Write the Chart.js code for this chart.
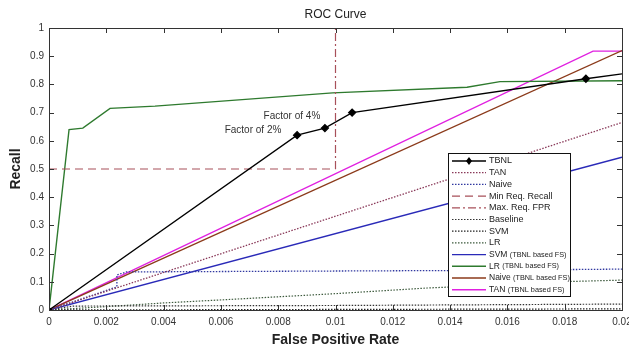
<!DOCTYPE html>
<html>
<head>
<meta charset="utf-8">
<script src="https://cdn.jsdelivr.net/npm/chart.js@4.4.1/dist/chart.umd.min.js"></script>
<style>
  html, body { margin: 0; padding: 0; background: #fff; }
  #wrap { width: 629px; height: 352px; }
</style>
</head>
<body>
<div id="wrap"><canvas id="roc" width="629" height="352"></canvas></div>
<script>
// values (false positive rate / recall)
const tbnlFpr = [0, 0.00866, 0.00963, 0.01058, 0.01874, 0.02];
const tbnlRecall = [0, 0.62, 0.645, 0.70, 0.82, 0.837];
const tanFpr = [0, 0.02];
const tanRecall = [0, 0.665];
const naiveFpr = [0, 0.00237, 0.00237, 0.0027, 0.014, 0.02];
const naiveRecall = [0, 0.082, 0.124, 0.135, 0.14, 0.145];
const minRecallFpr = [0, 0.01];
const minRecallVal = [0.5, 0.5];
const maxFprFpr = [0.01, 0.01];
const maxFprVal = [0.5, 1];
const baselineFpr = [0, 0.00085, 0.01, 0.02];
const baselineRecall = [0, 0.014, 0.016, 0.021];
const svmFpr = [0, 0.02];
const svmRecall = [0, 0.004];
const lrFpr = [0, 0.002, 0.004, 0.0066, 0.01, 0.0132, 0.016, 0.0178, 0.02];
const lrRecall = [0, 0.012, 0.025, 0.039, 0.058, 0.078, 0.09, 0.1, 0.106];
const svmFsFpr = [0, 0.02];
const svmFsRecall = [0, 0.542];
const lrFsFpr = [0, 0.0007, 0.00118, 0.00213, 0.0037, 0.0099, 0.01459, 0.01574, 0.02];
const lrFsRecall = [0, 0.64, 0.645, 0.715, 0.723, 0.77, 0.79, 0.81, 0.813];
const naiveFsFpr = [0, 0.02];
const naiveFsRecall = [0, 0.92];
const tanFsFpr = [0, 0.01899, 0.02];
const tanFsRecall = [0, 0.918, 0.918];
const xTicks = [0, 0.002, 0.004, 0.006, 0.008, 0.01, 0.012, 0.014, 0.016, 0.018, 0.02];
const yTicks = [0, 0.1, 0.2, 0.3, 0.4, 0.5, 0.6, 0.7, 0.8, 0.9, 1];

function pts(xs, ys) {
  return xs.map((x, i) => ({ x: x, y: ys[i] }));
}

const dot = [1.5, 1.5];

// legend inside the plot, drawn by hand (the built-in one can't sit in the chart area)
const boxLegend = {
  id: "boxLegend",
  afterDraw(chart) {
    const c = chart.ctx;
    const x0 = 448, y0 = 153, w = 122, h = 143;
    c.save();
    c.fillStyle = "#fff";
    c.fillRect(x0, y0, w, h);
    c.strokeStyle = "#111";
    c.lineWidth = 1;
    c.strokeRect(x0 + 0.5, y0 + 0.5, w, h);
    chart.data.datasets.forEach((ds, i) => {
      const y = y0 + 8 + i * 11.7;
      const lx1 = x0 + 4, lx2 = x0 + 38;
      c.strokeStyle = ds.borderColor;
      c.lineWidth = ds.borderWidth;
      c.setLineDash(ds.borderDash || []);
      c.beginPath();
      c.moveTo(lx1, y);
      c.lineTo(lx2, y);
      c.stroke();
      c.setLineDash([]);
      if (i === 0) {
        c.fillStyle = "#000";
        c.beginPath();
        const mx = (lx1 + lx2) / 2;
        c.moveTo(mx, y - 4);
        c.lineTo(mx + 3, y);
        c.lineTo(mx, y + 4);
        c.lineTo(mx - 3, y);
        c.closePath();
        c.fill();
      }
      c.fillStyle = "#222";
      c.textBaseline = "middle";
      c.textAlign = "left";
      const m = ds.label.match(/^(\S+) (\(.*\))$/);
      if (m) {
        c.font = "8.5px 'Liberation Sans', Arial, sans-serif";
        c.fillText(m[1], lx2 + 3, y);
        const wd = c.measureText(m[1] + " ").width;
        c.font = "7.3px 'Liberation Sans', Arial, sans-serif";
        c.fillText(m[2], lx2 + 3 + wd, y);
      } else {
        c.font = "9px 'Liberation Sans', Arial, sans-serif";
        c.fillText(ds.label, lx2 + 3, y);
      }
    });
    c.restore();
  },
};

// box around the plot with inward ticks on all four sides, plus the two notes
const frame = {
  id: "frame",
  afterDatasetsDraw(chart) {
    const c = chart.ctx;
    const a = chart.chartArea;
    const xs = chart.scales.x, ys = chart.scales.y;
    c.save();
    c.strokeStyle = "#333";
    c.lineWidth = 1;
    c.strokeRect(a.left + 0.5, a.top + 0.5, a.right - a.left, a.bottom - a.top);
    c.beginPath();
    xTicks.forEach((v) => {
      const px = Math.round(xs.getPixelForValue(v)) + 0.5;
      c.moveTo(px, a.bottom); c.lineTo(px, a.bottom - 5);
      c.moveTo(px, a.top); c.lineTo(px, a.top + 5);
    });
    yTicks.forEach((v) => {
      const py = Math.round(ys.getPixelForValue(v)) + 0.5;
      c.moveTo(a.left, py); c.lineTo(a.left + 5, py);
      c.moveTo(a.right, py); c.lineTo(a.right - 5, py);
    });
    c.stroke();
    c.fillStyle = "#333";
    c.font = "10px 'Liberation Sans', Arial, sans-serif";
    c.textAlign = "center";
    c.textBaseline = "middle";
    c.fillText("Factor of 4%", xs.getPixelForValue(0.00848), ys.getPixelForValue(0.688));
    c.fillText("Factor of 2%", xs.getPixelForValue(0.00712), ys.getPixelForValue(0.638));
    c.restore();
  },
};

const ctx = document.getElementById("roc");
new Chart(ctx, {
  type: "line",
  data: {
    datasets: [
      {
        label: "TBNL",
        data: pts(tbnlFpr, tbnlRecall),
        borderColor: "#000",
        backgroundColor: "#000",
        borderWidth: 1.3,
        pointStyle: "rectRot",
        pointRadius: [2.5, 3.5, 3.5, 3.5, 3.5, 0],
      },
      { label: "TAN", data: pts(tanFpr, tanRecall), borderColor: "#8a3a5a", borderWidth: 1.3, borderDash: dot },
      { label: "Naive", data: pts(naiveFpr, naiveRecall), borderColor: "#3038a0", borderWidth: 1.3, borderDash: dot },
      { label: "Min Req. Recall", data: pts(minRecallFpr, minRecallVal), borderColor: "#a8505a", borderWidth: 1.2, borderDash: [8, 5] },
      { label: "Max. Req. FPR", data: pts(maxFprFpr, maxFprVal), borderColor: "#a8505a", borderWidth: 1.2, borderDash: [8, 3, 2, 3] },
      { label: "Baseline", data: pts(baselineFpr, baselineRecall), borderColor: "#333", borderWidth: 1.2, borderDash: dot },
      { label: "SVM", data: pts(svmFpr, svmRecall), borderColor: "#222", borderWidth: 1.2, borderDash: dot },
      { label: "LR", data: pts(lrFpr, lrRecall), borderColor: "#3d5a3d", borderWidth: 1.2, borderDash: dot },
      { label: "SVM (TBNL based FS)", data: pts(svmFsFpr, svmFsRecall), borderColor: "#2a2ab8", borderWidth: 1.4 },
      { label: "LR (TBNL based FS)", data: pts(lrFsFpr, lrFsRecall), borderColor: "#2e7a2e", borderWidth: 1.4 },
      { label: "Naive (TBNL based FS)", data: pts(naiveFsFpr, naiveFsRecall), borderColor: "#8b3a1a", borderWidth: 1.4 },
      { label: "TAN (TBNL based FS)", data: pts(tanFsFpr, tanFsRecall), borderColor: "#e020e0", borderWidth: 1.4 },
    ],
  },
  options: {
    responsive: false,
    animation: false,
    elements: {
      point: { radius: 0 },
      line: { tension: 0, fill: false },
    },
    layout: { padding: { top: 0, right: 7, left: 0, bottom: 0 } },
    plugins: {
      legend: { display: false },
      tooltip: { enabled: false },
      title: {
        display: true,
        text: "ROC Curve",
        fullSize: false,
        color: "#222",
        font: { family: "'Liberation Sans', Arial, sans-serif", size: 12, weight: "normal" },
        padding: { top: 7, bottom: 6.6 },
      },
    },
    scales: {
      x: {
        type: "linear",
        min: 0,
        max: 0.02,
        afterFit: (s) => { s.height = 42; s.paddingLeft = 0; s.paddingRight = 0; },
        afterBuildTicks: (s) => { s.ticks = xTicks.map((v) => ({ value: v })); },
        grid: { display: false, drawTicks: false },
        border: { display: false },
        ticks: {
          padding: 6,
          color: "#333",
          font: { family: "'Liberation Sans', Arial, sans-serif", size: 10 },
          callback: (v) => String(Number(v.toFixed(3))),
        },
        title: {
          display: true,
          text: "False Positive Rate",
          color: "#222",
          font: { family: "'Liberation Sans', Arial, sans-serif", size: 14, weight: "bold" },
          padding: { top: 4, bottom: 3 },
        },
      },
      y: {
        min: 0,
        max: 1,
        afterFit: (s) => { s.width = 49; s.paddingTop = 0; s.paddingBottom = 0; },
        afterBuildTicks: (s) => { s.ticks = yTicks.map((v) => ({ value: v })); },
        grid: { display: false, drawTicks: false },
        border: { display: false },
        ticks: {
          padding: 5,
          color: "#333",
          font: { family: "'Liberation Sans', Arial, sans-serif", size: 10 },
          callback: (v) => String(Number(v.toFixed(1))),
        },
        title: {
          display: true,
          text: "Recall",
          color: "#222",
          font: { family: "'Liberation Sans', Arial, sans-serif", size: 14, weight: "bold" },
          padding: { top: 8, bottom: 0 },
        },
      },
    },
  },
  plugins: [frame, boxLegend],
});
</script>
</body>
</html>
